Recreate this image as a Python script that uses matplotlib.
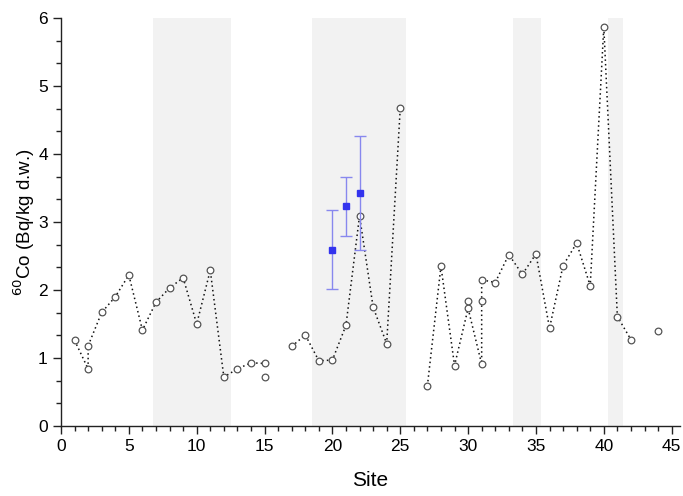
import matplotlib
matplotlib.use("Agg")
import matplotlib.pyplot as plt
from matplotlib.ticker import MultipleLocator, AutoMinorLocator

plt.rcParams['font.family'] = ['Liberation Sans', 'DejaVu Sans']

# connected series (in drawing order)
site_line = [1, 2, 2, 3, 4, 5, 6, 7, 8, 9, 10, 11, 12, 13, 14, 15]
co_line = [1.26, 0.84, 1.18, 1.67, 1.90, 2.22, 1.41, 1.82, 2.03, 2.18, 1.50, 2.29, 0.72, 0.84, 0.93, 0.92]

site_line2 = [17, 18, 19, 20, 21, 22, 23, 24, 25]
co_line2 = [1.17, 1.34, 0.96, 0.97, 1.48, 3.09, 1.75, 1.21, 4.67]

site_line3 = [27, 28, 29, 30, 31, 31, 31, 32, 33, 34, 35, 36, 37, 38, 39, 40, 41, 42]
co_line3 = [0.59, 2.35, 0.89, 1.73, 0.91, 1.84, 2.15, 2.11, 2.52, 2.23, 2.53, 1.44, 2.36, 2.69, 2.06, 5.87, 1.61, 1.27]

# isolated points
site_single = [15, 30, 44]
co_single = [0.72, 1.84, 1.39]

# points with error bars
site_err = [20, 21, 22]
co_err = [2.59, 3.24, 3.43]
err_lo = [2.01, 2.80, 2.59]
err_hi = [3.17, 3.66, 4.27]

# shaded site ranges
shade_ranges = [(6.8, 12.5), (18.5, 25.4), (33.3, 35.4), (40.3, 41.4)]

fig = plt.figure(figsize=(6.83, 4.96), dpi=100)
ax = fig.add_axes([0.0893, 0.141, 0.906, 0.823])

for a, b in shade_ranges:
    ax.axvspan(a, b, color='#f2f2f2', lw=0, zorder=0)

mk = dict(marker='o', markersize=4.8, markerfacecolor='white',
          markeredgecolor='#555555', markeredgewidth=0.9)
for xs, ys in [(site_line, co_line), (site_line2, co_line2), (site_line3, co_line3)]:
    ax.plot(xs, ys, color='#111111', linestyle=(0, (1, 2.0)), linewidth=1.1, zorder=2, **mk)
ax.plot(site_single, co_single, linestyle='none', zorder=2, **mk)

yerr = [[c - l for c, l in zip(co_err, err_lo)], [h - c for c, h in zip(co_err, err_hi)]]
ax.errorbar(site_err, co_err, yerr=yerr, fmt='s', color='#3333ee', markersize=4.5,
            ecolor='#8888ee', elinewidth=1.0, capsize=4, capthick=1.0, zorder=3)

ax.set_xlim(0, 45.6)
ax.set_ylim(0, 6)
ax.xaxis.set_major_locator(MultipleLocator(5))
ax.xaxis.set_minor_locator(MultipleLocator(1))
ax.yaxis.set_major_locator(MultipleLocator(1))
ax.yaxis.set_minor_locator(AutoMinorLocator(3))

for s in ['top', 'right']:
    ax.spines[s].set_visible(False)
for s in ['left', 'bottom']:
    ax.spines[s].set_linewidth(1.0)
    ax.spines[s].set_color('#222222')

ax.tick_params(which='major', direction='out', length=6, width=1.0, labelsize=12.5, colors='#222222', labelcolor='black')
ax.tick_params(which='minor', direction='out', length=3.5, width=1.0, colors='#222222')

ax.set_xlabel('Site', fontsize=15, labelpad=12)
ax.set_ylabel(r'$^{60}$Co (Bq/kg d.w.)', fontsize=13.5, labelpad=0.5)

fig.savefig('out.png', dpi=100)
